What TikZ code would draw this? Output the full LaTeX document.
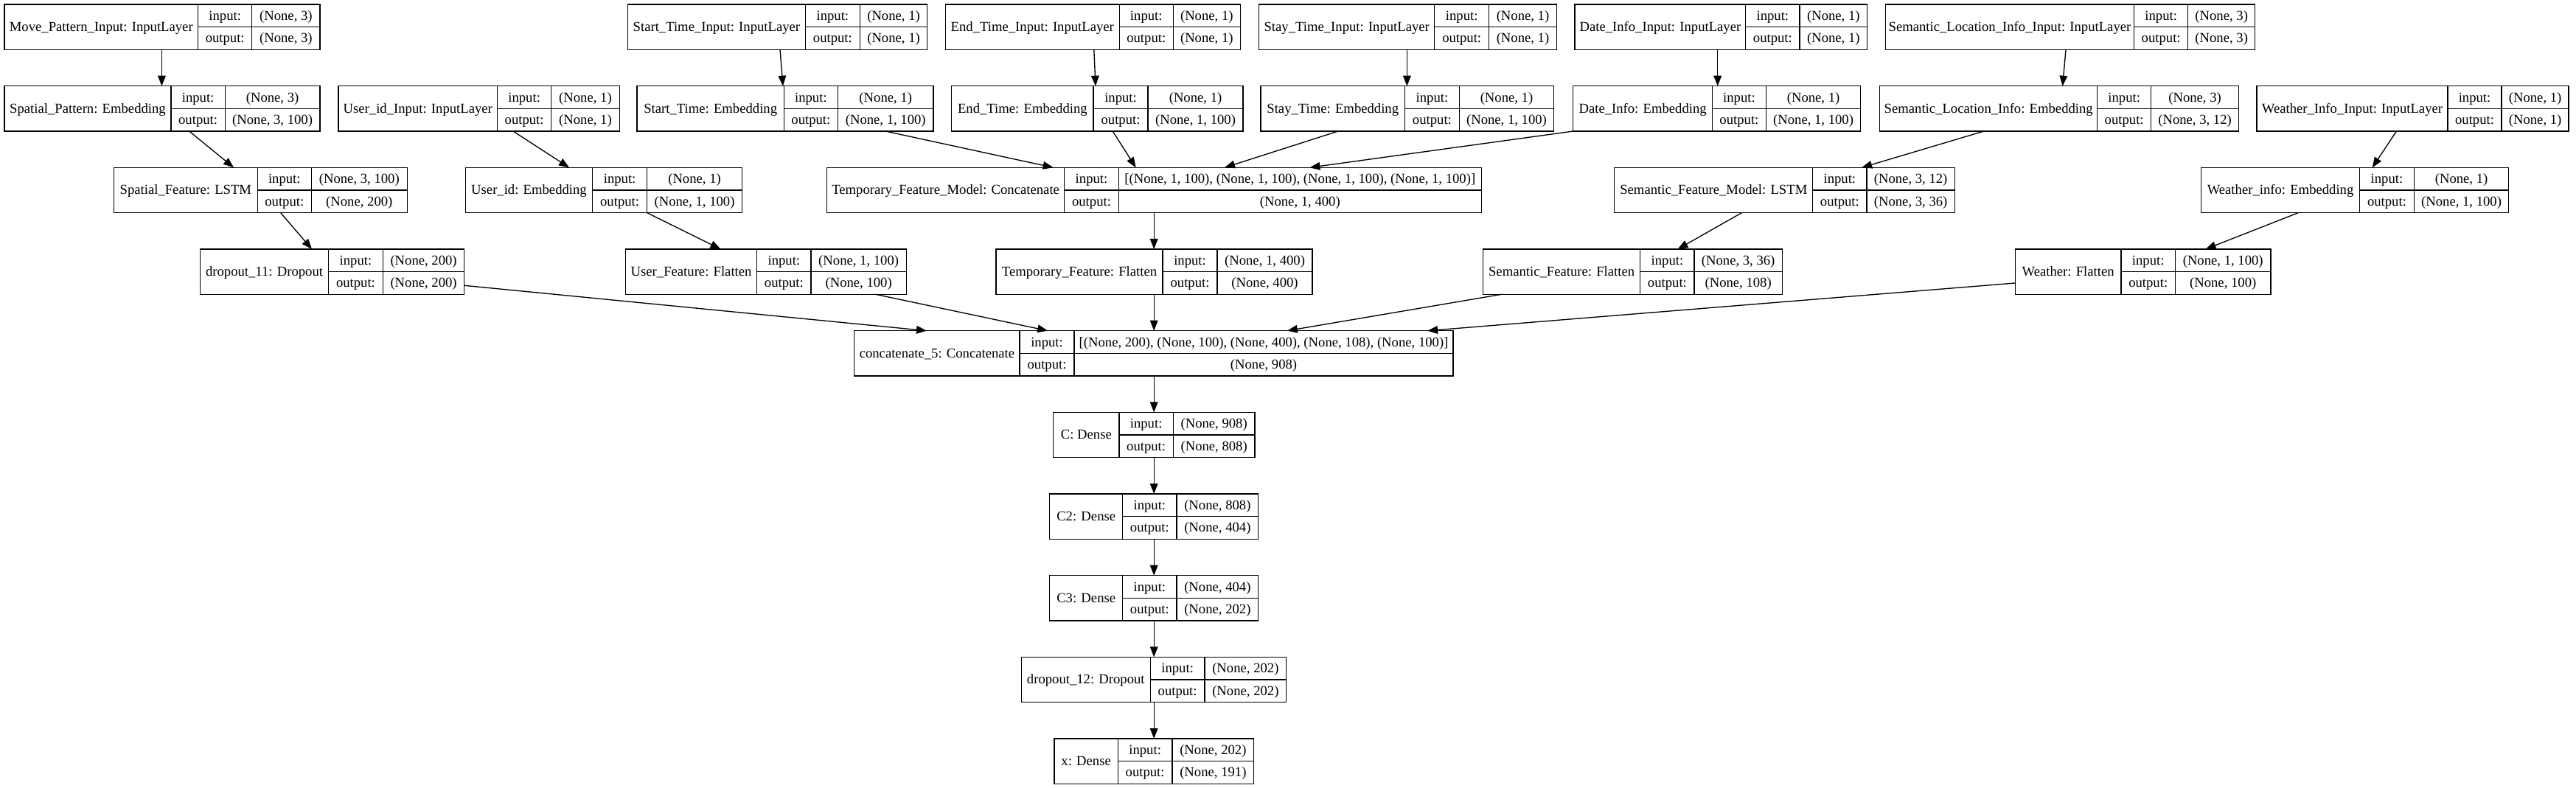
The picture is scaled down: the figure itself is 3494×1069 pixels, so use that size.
\documentclass[tikz,border=0pt]{standalone}
\usepackage{fontspec}
\setmainfont{Liberation Serif}
\usetikzlibrary{arrows.meta,fit,calc}
\tikzset{
  box/.style={draw, line width=1pt, inner sep=0pt, outer sep=0pt},
  div/.style={line width=1pt},
  txt/.style={inner sep=0pt, text height=11pt, text depth=2pt, font=\fontsize{14}{16}\selectfont},
  arr/.style={line width=1pt, -{Triangle[length=10.5pt,width=8pt]}}
}
\newcommand\rec[9]{%
  \node[box, fit={(#2,#6) (#5,#6+61.3)}] (#1) {};
  \draw[div] (#3,#6) -- (#3,#6+61.3) (#4,#6) -- (#4,#6+61.3) (#3,#6+30.65) -- (#5,#6+30.65);
  \node[txt] at ({(#2+#3)/2},#6+30.65) {#7};
  \node[txt] at ({(#3+#4)/2},#6+15.33) {input:};
  \node[txt] at ({(#3+#4)/2},#6+45.98) {output:};
  \node[txt] at ({(#4+#5)/2},#6+15.33) {#8};
  \node[txt] at ({(#4+#5)/2},#6+45.98) {#9};
}
\begin{document}
\begin{tikzpicture}[x=0.75pt,y=-0.75pt]
\fill[white] (0,0) rectangle (3494,1069);
\useasboundingbox (0,0) rectangle (3494,1069);
% row 1
\rec{mpin}{6}{268.6}{341.8}{434}{6}{Move\_Pattern\_Input: InputLayer}{(None, 3)}{(None, 3)}
\rec{stin}{851.4}{1092.4}{1166.3}{1257.8}{6}{Start\_Time\_Input: InputLayer}{(None, 1)}{(None, 1)}
\rec{etin}{1282.4}{1518.2}{1591.3}{1682.3}{6}{End\_Time\_Input: InputLayer}{(None, 1)}{(None, 1)}
\rec{stayin}{1707.7}{1945.8}{2019.6}{2111.4}{6}{Stay\_Time\_Input: InputLayer}{(None, 1)}{(None, 1)}
\rec{datein}{2136}{2367.8}{2440.9}{2532.7}{6}{Date\_Info\_Input: InputLayer}{(None, 1)}{(None, 1)}
\rec{slin}{2557.3}{2894.6}{2967.7}{3058.7}{6}{Semantic\_Location\_Info\_Input: InputLayer}{(None, 3)}{(None, 3)}
% row 2
\rec{sp}{6}{232}{305.2}{434}{116.7}{Spatial\_Pattern: Embedding}{(None, 3)}{(None, 3, 100)}
\rec{uidin}{459}{674.6}{747.7}{840.2}{116.7}{User\_id\_Input: InputLayer}{(None, 1)}{(None, 1)}
\rec{st}{864.1}{1063.3}{1136.5}{1266}{116.7}{Start\_Time: Embedding}{(None, 1)}{(None, 1, 100)}
\rec{et}{1290.6}{1483.1}{1557}{1686.1}{116.7}{End\_Time: Embedding}{(None, 1)}{(None, 1, 100)}
\rec{stay}{1710}{1905.5}{1979.3}{2107.7}{116.7}{Stay\_Time: Embedding}{(None, 1)}{(None, 1, 100)}
\rec{date}{2133.8}{2322.4}{2395.4}{2523.7}{116.7}{Date\_Info: Embedding}{(None, 1)}{(None, 1, 100)}
\rec{sl}{2549.8}{2844.6}{2917.7}{3036.4}{116.7}{Semantic\_Location\_Info: Embedding}{(None, 3)}{(None, 3, 12)}
\rec{wiin}{3061}{3319.9}{3393.1}{3484.1}{116.7}{Weather\_Info\_Input: InputLayer}{(None, 1)}{(None, 1)}
% row 3
\rec{sf}{154.5}{349.2}{422.4}{552.2}{227.3}{Spatial\_Feature: LSTM}{(None, 3, 100)}{(None, 200)}
\rec{uid}{631.3}{803.7}{877.5}{1006.6}{227.3}{User\_id: Embedding}{(None, 1)}{(None, 1, 100)}
\rec{tfm}{1121.6}{1443.6}{1517.4}{2009.2}{227.3}{Temporary\_Feature\_Model: Concatenate}{[(None, 1, 100), (None, 1, 100), (None, 1, 100), (None, 1, 100)]}{(None, 1, 400)}
\rec{sfm}{2189.8}{2458.8}{2531.9}{2651.3}{227.3}{Semantic\_Feature\_Model: LSTM}{(None, 3, 12)}{(None, 3, 36)}
\rec{wi}{2985.6}{3200.5}{3274.4}{3402.7}{227.3}{Weather\_info: Embedding}{(None, 1)}{(None, 1, 100)}
% row 4
\rec{d11}{271.6}{445.5}{519.4}{629.8}{338}{dropout\_11: Dropout}{(None, 200)}{(None, 200)}
\rec{uf}{848.4}{1026.8}{1099.9}{1229.4}{338}{User\_Feature: Flatten}{(None, 1, 100)}{(None, 100)}
\rec{tf}{1351}{1577.1}{1651}{1780.1}{338}{Temporary\_Feature: Flatten}{(None, 1, 400)}{(None, 400)}
\rec{sfe}{2011.4}{2224.8}{2298}{2417.3}{338}{Semantic\_Feature: Flatten}{(None, 3, 36)}{(None, 108)}
\rec{w}{2733.3}{2877}{2950.4}{3080}{338}{Weather: Flatten}{(None, 1, 100)}{(None, 100)}
% row 5
\rec{cat}{1158.8}{1383.1}{1457}{1971.1}{448.7}{concatenate\_5: Concatenate}{[(None, 200), (None, 100), (None, 400), (None, 108), (None, 100)]}{(None, 908)}
% chain
\rec{c1}{1428.7}{1518}{1591.3}{1702}{559.3}{C: Dense}{(None, 908)}{(None, 808)}
\rec{c2}{1423.7}{1522.7}{1596}{1706.7}{670}{C2: Dense}{(None, 808)}{(None, 404)}
\rec{c3}{1423.7}{1522.7}{1596}{1706.7}{780.7}{C3: Dense}{(None, 404)}{(None, 202)}
\rec{d12}{1385.3}{1560.3}{1634}{1744.7}{891.3}{dropout\_12: Dropout}{(None, 202)}{(None, 202)}
\rec{xd}{1430}{1516.3}{1590}{1700.7}{1002}{x: Dense}{(None, 202)}{(None, 191)}
% edges
\draw[arr] (mpin.south -| 219.4,0) -- (sp.north -| 219.4,0);
\draw[arr] (sp.south -| 256.7,0) -- (sf.north -| 317,0);
\draw[arr] (uidin.south -| 696,0) -- (uid.north -| 772,0);
\draw[arr] (stin.south -| 1058,0) -- (st.north -| 1062,0);
\draw[arr] (etin.south -| 1483.8,0) -- (et.north -| 1486,0);
\draw[arr] (stayin.south -| 1908.4,0) -- (stay.north -| 1908.4,0);
\draw[arr] (datein.south -| 2329.7,0) -- (date.north -| 2329.7,0);
\draw[arr] (slin.south -| 2802,0) -- (sl.north -| 2797.6,0);
\draw[arr] (st.south -| 1201,0) -- (tfm.north -| 1428.6,0);
\draw[arr] (et.south -| 1509.2,0) -- (tfm.north -| 1540.6,0);
\draw[arr] (stay.south -| 1815,0) -- (tfm.north -| 1661,0);
\draw[arr] (date.south west) -- (tfm.north -| 1776.4,0);
\draw[arr] (sl.south -| 2690.9,0) -- (sfm.north -| 2525.2,0);
\draw[arr] (wiin.south -| 3250.5,0) -- (wi.north -| 3217.7,0);
\draw[arr] (sf.south -| 380.6,0) -- (d11.north -| 423,0);
\draw[arr] (uid.south -| 877.5,0) -- (uf.north -| 977.5,0);
\draw[arr] (tfm.south -| 1565.2,0) -- (tf.north -| 1565.2,0);
\draw[arr] (sfm.south -| 2362.5,0) -- (sfe.north -| 2275.5,0);
\draw[arr] (wi.south -| 3117.4,0) -- (w.north -| 2991.6,0);
\draw[arr] (d11.east |- 0,387.3) -- (cat.north -| 1257,0);
\draw[arr] (uf.south -| 1187.6,0) -- (cat.north -| 1421.2,0);
\draw[arr] (tf.south -| 1565.2,0) -- (cat.north -| 1565.2,0);
\draw[arr] (sfe.south -| 2036.8,0) -- (cat.north -| 1745.8,0);
\draw[arr] (w.west |- 0,384) -- (cat.north -| 1936,0);
\draw[arr] (cat.south -| 1565.2,0) -- (c1.north -| 1565.2,0);
\draw[arr] (c1.south -| 1565.2,0) -- (c2.north -| 1565.2,0);
\draw[arr] (c2.south -| 1565.2,0) -- (c3.north -| 1565.2,0);
\draw[arr] (c3.south -| 1565.2,0) -- (d12.north -| 1565.2,0);
\draw[arr] (d12.south -| 1565.2,0) -- (xd.north -| 1565.2,0);
\end{tikzpicture}
\end{document}
